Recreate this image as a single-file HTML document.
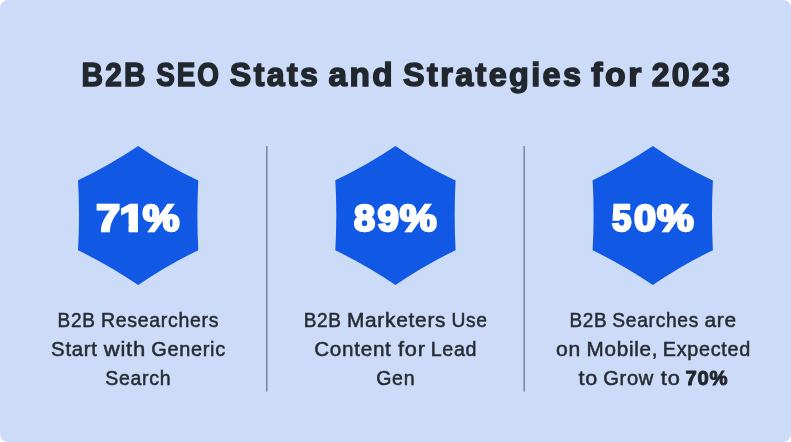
<!DOCTYPE html>
<html lang="en">
<head>
<meta charset="utf-8">
<title>B2B SEO Stats and Strategies for 2023</title>
<style>
html,body{margin:0;padding:0;background:#fff;}
body{width:791px;height:442px;overflow:hidden;position:relative;font-family:"Liberation Sans",sans-serif;}
svg{display:block;position:absolute;left:0;top:0;}
text{font-family:"Liberation Sans",sans-serif;}
.title{font-weight:700;font-size:32.9px;fill:#22272e;stroke:#22272e;stroke-width:1.5px;letter-spacing:2.4px;}
.num{font-weight:700;font-size:36.3px;fill:#ffffff;stroke:#ffffff;stroke-width:2.4px;stroke-linejoin:miter;}
.body{font-size:19.7px;fill:#262b33;stroke:#262b33;stroke-width:0.5px;letter-spacing:0.7px;}
.b{font-weight:700;font-size:19.3px;stroke-width:0.9px;fill:#22272e;stroke:#22272e;}

</style>
</head>
<body>
<svg width="791" height="442" viewBox="0 0 791 442">
  <rect x="0" y="0" width="791" height="442" rx="8" ry="8" fill="#ccdcf8"/>
  <rect x="266" y="146" width="1.6" height="245.6" fill="#7c8ba5"/>
  <rect x="523.4" y="146" width="1.6" height="245.6" fill="#7c8ba5"/>
  <path transform="translate(138.2 0)" d="M0 146.0 Q28.46 165.97 60.1 180.4 Q58.30 215.31 60.1 250.2 Q28.70 265.31 0.0 285.1 Q-28.80 265.45 -60.2 250.3 Q-58.20 215.31 -60.2 180.3 Q-28.80 165.40 0.0 146.0Z" fill="#1158e5"/>
  <path transform="translate(395.5 0)" d="M0 146.0 Q28.46 165.97 60.1 180.4 Q58.30 215.31 60.1 250.2 Q28.70 265.31 0.0 285.1 Q-28.80 265.45 -60.2 250.3 Q-58.20 215.31 -60.2 180.3 Q-28.80 165.40 0.0 146.0Z" fill="#1158e5"/>
  <path transform="translate(652.8 0)" d="M0 146.0 Q28.46 165.97 60.1 180.4 Q58.30 215.31 60.1 250.2 Q28.70 265.31 0.0 285.1 Q-28.80 265.45 -60.2 250.3 Q-58.20 215.31 -60.2 180.3 Q-28.80 165.40 0.0 146.0Z" fill="#1158e5"/>
  <clipPath id="nofoot"><path clip-rule="evenodd" d="M0 0H791V442H0Z M118 224.4H128.62V234H118Z M137.95 224.4H146.5V234H137.95Z"/></clipPath>
  <text class="title" y="86"><tspan x="81.49" textLength="66.09" lengthAdjust="spacingAndGlyphs">B2B</tspan> <tspan x="156.16" textLength="64.88" lengthAdjust="spacingAndGlyphs">SEO</tspan> <tspan x="229.82" textLength="90.45" lengthAdjust="spacingAndGlyphs">Stats</tspan> <tspan x="328.54" textLength="66.60" lengthAdjust="spacingAndGlyphs">and</tspan> <tspan x="403.12" textLength="180.28" lengthAdjust="spacingAndGlyphs">Strategies</tspan> <tspan x="591.30" textLength="52.51" lengthAdjust="spacingAndGlyphs">for</tspan> <tspan x="651.63" textLength="80.47" lengthAdjust="spacingAndGlyphs">2023</tspan></text>
  <text class="num" y="230.5" clip-path="url(#nofoot)"><tspan x="96.23" textLength="23.79" lengthAdjust="spacingAndGlyphs">7</tspan><tspan x="119.49" textLength="25.36" lengthAdjust="spacingAndGlyphs">1</tspan><tspan x="142.75" textLength="36.69" lengthAdjust="spacingAndGlyphs">%</tspan></text>
  <text class="num" y="230.5"><tspan x="354.14" textLength="21.07" lengthAdjust="spacingAndGlyphs">8</tspan><tspan x="377.52" textLength="21.38" lengthAdjust="spacingAndGlyphs">9</tspan><tspan x="399.75" textLength="36.88" lengthAdjust="spacingAndGlyphs">%</tspan></text>
  <text class="num" y="230.5"><tspan x="612.11" textLength="19.42" lengthAdjust="spacingAndGlyphs">5</tspan><tspan x="633.96" textLength="22.06" lengthAdjust="spacingAndGlyphs">0</tspan><tspan x="656.95" textLength="36.79" lengthAdjust="spacingAndGlyphs">%</tspan></text>
  <text class="body" y="327"><tspan x="57.57" textLength="37.94" lengthAdjust="spacingAndGlyphs">B2B</tspan> <tspan x="100.94" textLength="118.20" lengthAdjust="spacingAndGlyphs">Researchers</tspan></text>
  <text class="body" y="356"><tspan x="51.12" textLength="46.53" lengthAdjust="spacingAndGlyphs">Start</tspan> <tspan x="103.68" textLength="42.35" lengthAdjust="spacingAndGlyphs">with</tspan> <tspan x="151.21" textLength="74.69" lengthAdjust="spacingAndGlyphs">Generic</tspan></text>
  <text class="body" y="385"><tspan x="105.25" textLength="66.06" lengthAdjust="spacingAndGlyphs">Search</tspan></text>
  <text class="body" y="327"><tspan x="303.67" textLength="37.94" lengthAdjust="spacingAndGlyphs">B2B</tspan> <tspan x="346.95" textLength="99.29" lengthAdjust="spacingAndGlyphs">Marketers</tspan> <tspan x="451.41" textLength="36.33" lengthAdjust="spacingAndGlyphs">Use</tspan></text>
  <text class="body" y="356"><tspan x="314.17" textLength="77.43" lengthAdjust="spacingAndGlyphs">Content</tspan> <tspan x="397.98" textLength="27.75" lengthAdjust="spacingAndGlyphs">for</tspan> <tspan x="430.73" textLength="46.52" lengthAdjust="spacingAndGlyphs">Lead</tspan></text>
  <text class="body" y="385"><tspan x="376.22" textLength="39.04" lengthAdjust="spacingAndGlyphs">Gen</tspan></text>
  <text class="body" y="327"><tspan x="569.47" textLength="37.83" lengthAdjust="spacingAndGlyphs">B2B</tspan> <tspan x="612.36" textLength="86.64" lengthAdjust="spacingAndGlyphs">Searches</tspan> <tspan x="704.40" textLength="32.47" lengthAdjust="spacingAndGlyphs">are</tspan></text>
  <text class="body" y="356"><tspan x="555.94" textLength="25.04" lengthAdjust="spacingAndGlyphs">on</tspan> <tspan x="586.56" textLength="71.71" lengthAdjust="spacingAndGlyphs">Mobile,</tspan> <tspan x="662.82" textLength="88.12" lengthAdjust="spacingAndGlyphs">Expected</tspan></text>
  <text class="body" y="385"><tspan x="578.58" textLength="19.49" lengthAdjust="spacingAndGlyphs">to</tspan> <tspan x="603.20" textLength="50.89" lengthAdjust="spacingAndGlyphs">Grow</tspan> <tspan x="660.88" textLength="19.70" lengthAdjust="spacingAndGlyphs">to</tspan> <tspan class="b" x="685.58" textLength="42.79" lengthAdjust="spacingAndGlyphs">70%</tspan></text>
</svg>
</body>
</html>
